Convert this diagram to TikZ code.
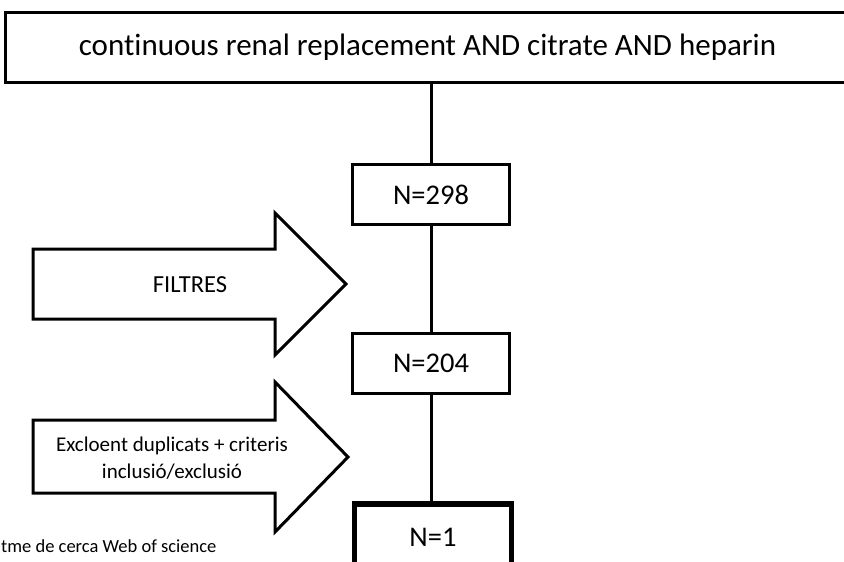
\documentclass[tikz,border=0pt]{standalone}
\usepackage{fontspec}
\setmainfont{Carlito}[Ligatures=NoCommon]
\begin{document}
\begin{tikzpicture}[x=1pt,y=-1pt,
  box/.style={draw=black,line width=3pt,fill=white,inner sep=0pt,align=center},
  countbox/.style={box,minimum width=157pt,minimum height=60pt,font=\fontsize{28.5}{33}\selectfont},
  link/.style={draw=black,line width=3pt},
  bigarrow/.style={draw=black,line width=3pt,fill=white,line join=miter}]
\useasboundingbox (0,0) rectangle (844,562);
\clip (0,0) rectangle (844,562);

% search query box (runs past the right edge)
\node[box,minimum width=845pt,minimum height=70pt,font=\fontsize{31}{36}\selectfont]
  (query) at (427.5,47) {continuous renal replacement AND citrate AND heparin};

% record counts
\node[countbox] (n298) at (431,194.5) {N=298};
\node[countbox] (n204) at (431,363) {N=204};
\node[countbox,line width=5.5pt,minimum height=66pt] (n1) at (433,537) {N=1};

% vertical flow
\draw[link] (query.south -| n298) -- (n298.north);
\draw[link] (n298.south) -- (n204.north);
\draw[link] (n204.south -| n298) -- (n1.north -| n298);

% filter arrow
\draw[bigarrow] (33,249) -- (275,249) -- (275,213) -- (346,284) -- (275,355) -- (275,319) -- (33,319) -- cycle;
\node[font=\fontsize{24.5}{29}\selectfont] (filt) at (190,285) {FILTRES};

% exclusion arrow
\draw[bigarrow] (33,420) -- (275,420) -- (275,382) -- (348,457) -- (275,532) -- (275,493) -- (33,493) -- cycle;
\node[font=\fontsize{21}{27}\selectfont,align=center] (excl) at (172,458)
  {Excloent duplicats + criteris\\inclusió/exclusió};

% caption
\node[anchor=base west,inner sep=0pt,font=\fontsize{18.5}{22}\selectfont] (cap) at (1,552)
  {tme de cerca Web of science};
\end{tikzpicture}
\end{document}
